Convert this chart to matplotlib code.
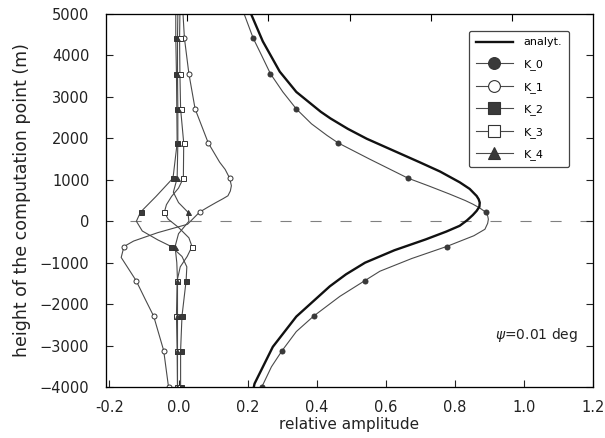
import matplotlib
matplotlib.use("Agg")
import matplotlib.pyplot as plt
import matplotlib.ticker as ticker
from matplotlib.lines import Line2D

# ---------------------------------------------------------------------------
# Data
# ---------------------------------------------------------------------------
ANALYT_H = [5000, 4340, 3610, 3120, 2640, 2480, 2230, 1990, 1420, 1200, 940, 780,
            610, 530, 450, 350, 250, 150, 20, -110, -250, -440, -700, -1000, -1280,
            -1570, -2300, -3030, -3920, -4000]
ANALYT_X = [0.210, 0.244, 0.293, 0.341, 0.412, 0.440, 0.490, 0.545, 0.699, 0.757,
            0.814, 0.843, 0.863, 0.869, 0.872, 0.871, 0.863, 0.852, 0.835, 0.814,
            0.775, 0.715, 0.625, 0.540, 0.485, 0.438, 0.341, 0.273, 0.220, 0.218]

K0_H = [5000, 4420, 4010, 3560, 3120, 2710, 2350, 2070, 1890, 1500, 1040, 850, 655,
        500, 413, 320, 220, 130, 49, -50, -194, -350, -610, -900, -1206, -1430,
        -1813, -2290, -2662, -3120, -3512, -4000]
K0_X = [0.190, 0.216, 0.240, 0.266, 0.302, 0.341, 0.385, 0.430, 0.462, 0.553, 0.664,
        0.725, 0.785, 0.830, 0.852, 0.872, 0.889, 0.895, 0.897, 0.895, 0.887, 0.855,
        0.776, 0.675, 0.583, 0.540, 0.467, 0.391, 0.341, 0.300, 0.269, 0.241]

K1_H = [5000, 4420, 3560, 2710, 1890, 1425, 1250, 1040, 857, 730, 614, 540, 454,
        340, 220, -73, -275, -478, -610, -874, -1430, -1890, -2290, -3120, -4000]
K1_X = [0.013, 0.017, 0.030, 0.048, 0.086, 0.119, 0.135, 0.148, 0.153, 0.150, 0.143,
        0.128, 0.109, 0.085, 0.061, 0.026, -0.060, -0.130, -0.158, -0.166, -0.123,
        -0.096, -0.072, -0.043, -0.029]

K2_H = [5000, 4420, 3560, 2710, 1890, 1040, 600, 220, 0, -235, -450, -610, -850,
        -1100, -1430, -2290, -3120, -4000]
K2_X = [-0.008, -0.008, -0.006, -0.005, -0.004, -0.016, -0.065, -0.110, -0.122,
        -0.105, -0.060, -0.021, 0.010, 0.024, 0.022, 0.010, 0.006, 0.006]

K3_H = [5000, 4420, 3560, 2710, 1890, 1040, 800, 600, 400, 220, 50, -150, -400,
        -610, -850, -1100, -1430, -2290, -3120, -4000]
K3_X = [0.004, 0.003, 0.004, 0.006, 0.015, 0.014, 0.000, -0.020, -0.035, -0.041,
        -0.030, 0.000, 0.030, 0.039, 0.025, 0.005, -0.004, -0.006, -0.004, -0.003]

K4_H = [5000, 4420, 3560, 2710, 1890, 1040, 700, 450, 220, 0, -300, -610, -1000,
        -1430, -2290, -3120, -4000]
K4_X = [-0.002, -0.003, -0.003, -0.002, -0.002, -0.004, -0.015, 0.000, 0.027, 0.030,
        0.000, -0.010, -0.005, -0.003, -0.003, -0.003, -0.003]

# heights at which the numerical curves carry symbols
MARK_H = [4420, 3560, 2710, 1890, 1040, 220, -610, -1430, -2290, -3120, -4000]

X_TICKS = [-0.2, 0.0, 0.2, 0.4, 0.6, 0.8, 1.0, 1.2]
Y_TICKS = [5000, 4000, 3000, 2000, 1000, 0, -1000, -2000, -3000, -4000]

# ---------------------------------------------------------------------------
# Style
# ---------------------------------------------------------------------------
LINE_C = "#4a4a4a"
TEXT_C = "#222222"

SERIES = [
    ("K_0", K0_H, K0_X, "o", "#3a3a3a"),
    ("K_1", K1_H, K1_X, "o", "white"),
    ("K_2", K2_H, K2_X, "s", "#3a3a3a"),
    ("K_3", K3_H, K3_X, "s", "white"),
    ("K_4", K4_H, K4_X, "^", "#3a3a3a"),
]

plt.rcParams["font.family"] = ["DejaVu Sans"]

fig = plt.figure(figsize=(6.05, 4.38), dpi=100)
ax = fig.add_axes([0.1752, 0.1164, 0.805, 0.8516])

# reference level of the computation point
ax.plot([-0.14, 1.2], [0, 0], color="#808080", lw=0.8, dashes=(10, 17), zorder=1)

ax.plot(ANALYT_X, ANALYT_H, color="#111111", lw=1.7, zorder=4,
        solid_joinstyle="round")

for name, hs, xs, mk, face in SERIES:
    idx = [hs.index(h) for h in MARK_H if h in hs]
    ax.plot(xs, hs, color=LINE_C, lw=0.8, marker=mk, markevery=idx,
            markersize=3.6, markerfacecolor=face, markeredgecolor="#333333",
            markeredgewidth=0.7, zorder=3, solid_joinstyle="round")

ax.set_xlim(-0.21, 1.2)
ax.set_ylim(-4000, 5000)
ax.set_xticks(X_TICKS)
ax.set_yticks(Y_TICKS)
ax.xaxis.set_major_formatter(ticker.FormatStrFormatter("%.1f"))
ax.tick_params(direction="in", length=5, width=0.8, labelsize=10.5,
               colors=TEXT_C, right=True)
ax.tick_params(axis="y", pad=12)
ax.tick_params(axis="x", pad=9)
for sp in ax.spines.values():
    sp.set_linewidth(0.9)
    sp.set_color("#333333")

top = ax.twiny()
top.set_xlim(0, 6)
top.set_xticks([1, 2, 3, 4, 5])
top.tick_params(direction="in", length=5, width=0.8, labeltop=False)

ax.set_xlabel("relative amplitude", fontsize=11, color=TEXT_C, labelpad=2)
ax.set_ylabel("height of the computation point (m)", fontsize=12.5, color=TEXT_C,
              labelpad=6)

ax.text(1.035, -2743, r"$\psi$=0.01 deg", fontsize=10, ha="center", va="center",
        color=TEXT_C)

handles = [Line2D([], [], color="#111111", lw=1.7)]
labels = ["analyt."]
for name, hs, xs, mk, face in SERIES:
    handles.append(Line2D([], [], color=LINE_C, lw=0.8, marker=mk, markersize=8.5,
                          markerfacecolor=face, markeredgecolor="#333333",
                          markeredgewidth=0.8))
    labels.append(name)
leg = ax.legend(handles, labels, loc="upper right", bbox_to_anchor=(0.962, 0.97),
                fontsize=8, handlelength=3.3, handletextpad=1.0, labelspacing=1.05,
                borderpad=0.6, fancybox=True, framealpha=1, edgecolor="#444444")
leg.get_frame().set_linewidth(0.9)
leg.set_zorder(5)

fig.savefig("out.png", dpi=100, facecolor="white")
